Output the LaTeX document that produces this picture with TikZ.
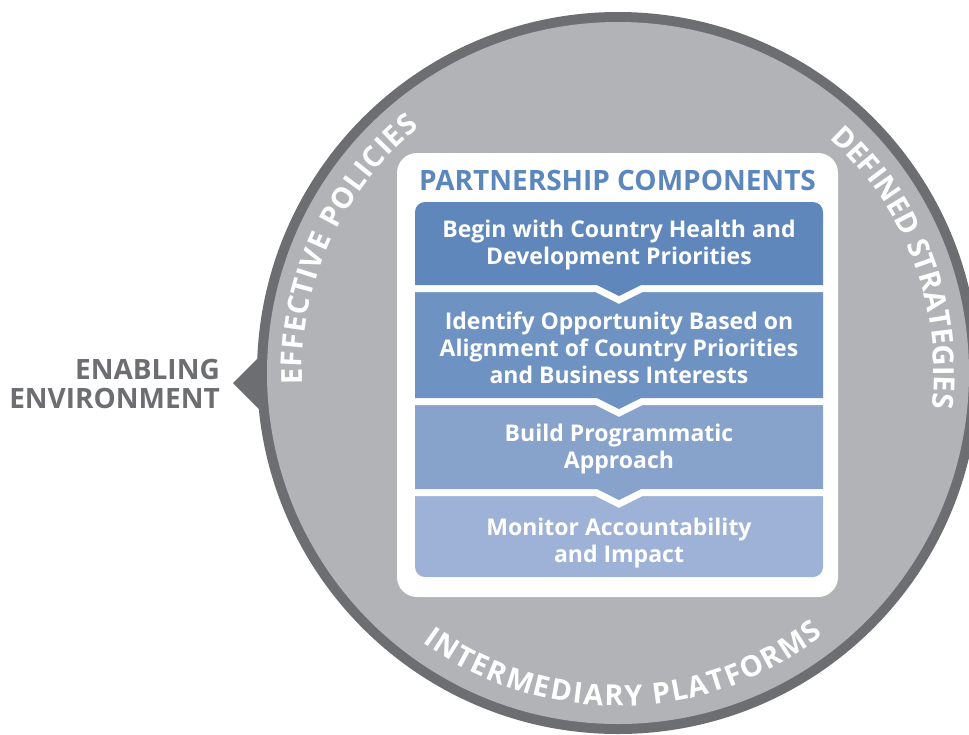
\documentclass[tikz,border=0pt]{standalone}
\usepackage{fontspec}
\setmainfont{Open Sans}
\usepackage{xcolor}
\usetikzlibrary{positioning, decorations.text}

\definecolor{ringdark}{HTML}{6D6E71}
\definecolor{ringlight}{HTML}{B2B3B6}
\definecolor{titleblue}{HTML}{5B87BC}
\definecolor{stageA}{HTML}{5F87BB}
\definecolor{stageB}{HTML}{6E92C2}
\definecolor{stageC}{HTML}{87A2CB}
\definecolor{stageD}{HTML}{9DB2D6}

\newcommand{\arcfont}{\fontsize{29}{29}\selectfont\bfseries}

\begin{document}
\begin{tikzpicture}[x=1pt, y=1pt,
  stage/.style={preaction={draw=white, line width=14pt, line join=miter}},
  stagetxt/.style={font=\bfseries\fontsize{23}{27}\selectfont, text=white, align=center},
  arctext/.style={decorate, decoration={text along path, text align={fit to path}, text color=white, text={|\arcfont|#1}}},
]
\useasboundingbox (0,0) rectangle (969,-734);
\clip (0,0) rectangle (969,-734);
\coordinate (c) at (618,-373);

% --- outer ring with pointer ---
\fill[ringdark] (233,-383) -- (273,-343) -- (273,-423) -- cycle;
\fill[ringdark] (c) circle[radius=361];
\fill[ringlight] (c) circle[radius=351];

\path[arctext=EFFECTIVE POLICIES] (c) ++(182:316) arc[start angle=182, end angle=129, radius=316];
\path[arctext=DEFINED STRATEGIES] (c) ++(48:316) arc[start angle=48, end angle=-6, radius=316];
\path[arctext=INTERMEDIARY PLATFORMS] (c) ++(234:333) arc[start angle=234, end angle=308, radius=333];

\node[font=\bfseries\fontsize{28}{29}\selectfont, text=ringdark, align=right, anchor=east, inner sep=0pt] (env) at (220,-384) {ENABLING\\ENVIRONMENT};

% --- white panel ---
\fill[white, rounded corners=20] (397,-153) rectangle (838,-597);
\node[font=\bfseries\fontsize{28}{28}\selectfont, text=titleblue] (title) at (617.5,-180) {PARTNERSHIP COMPONENTS};

% --- stages, bottom one first ---
\fill[stageD] (415,-530) -- (415,-480) -- (823,-480) -- (823,-530) [rounded corners=10] -- (823,-577) -- (415,-577) -- cycle;
\fill[stageC, stage] (415,-399) -- (415,-489) -- (597,-489) -- (619,-500) -- (641,-489) -- (823,-489) -- (823,-399) -- cycle;
\fill[stageB, stage] (415,-280) -- (415,-398) -- (597,-398) -- (619,-409) -- (641,-398) -- (823,-398) -- (823,-280) -- cycle;
\fill[stageA, stage] (415,-243) [rounded corners=10] -- (415,-202) -- (823,-202) -- (823,-243) [sharp corners] -- (823,-285) -- (641,-285) -- (619,-296) -- (597,-285) -- (415,-285) -- cycle;

\node[stagetxt] (s1) at (619,-245) {Begin with Country Health and\\Development Priorities};
\node[stagetxt] (s2) at (619,-348) {Identify Opportunity Based on\\Alignment of Country Priorities\\and Business Interests};
\node[stagetxt] (s3) at (619,-449) {Build Programmatic\\Approach};
\node[stagetxt] (s4) at (619,-543) {Monitor Accountability\\and Impact};

\end{tikzpicture}
\end{document}
